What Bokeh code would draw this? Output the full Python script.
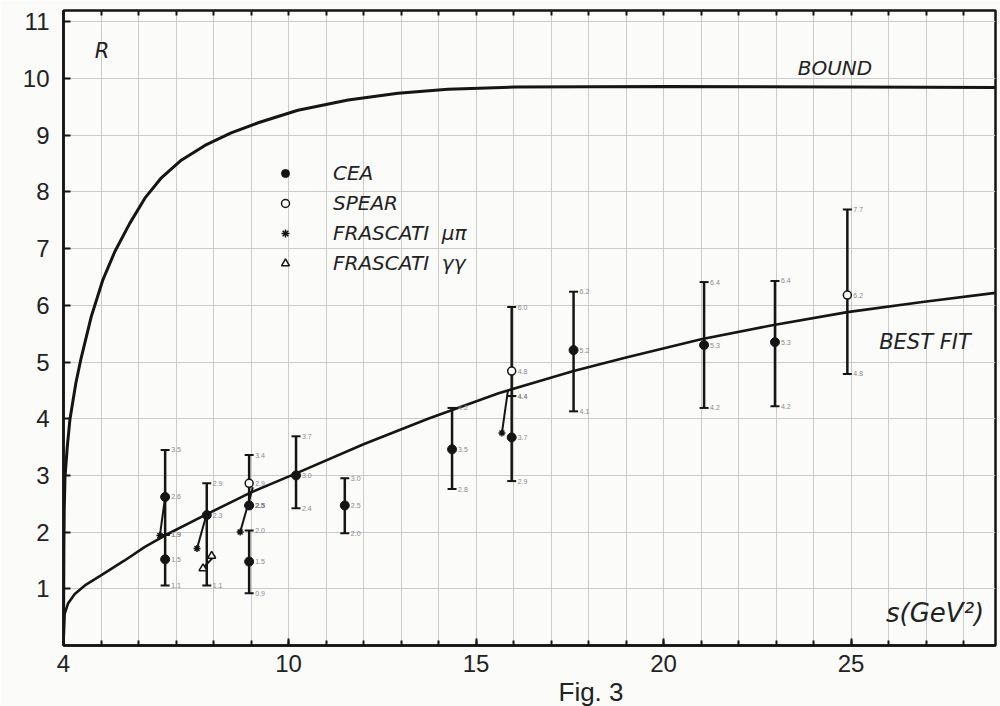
from bokeh.plotting import figure
from bokeh.models import FixedTicker, Label, Legend, LegendItem, LinearAxis, Range1d, Title
from bokeh.core.properties import value
from bokeh.embed import file_html
from bokeh.resources import INLINE

# ---- data ----
bound_s = [4.0, 4.01, 4.02, 4.04, 4.1, 4.17, 4.33, 4.47, 4.74, 5.05, 5.37, 5.77, 6.17, 6.61, 7.14, 7.77,
           8.47, 9.19, 10.25, 11.59, 12.92, 14.25, 16.03, 20.0, 25.0, 28.85]
bound_r = [0.0, 1.7, 2.4, 2.97, 3.5, 3.98, 4.63, 5.07, 5.80, 6.45, 6.95, 7.45, 7.89, 8.25, 8.56, 8.82,
           9.04, 9.22, 9.44, 9.62, 9.74, 9.81, 9.85, 9.86, 9.85, 9.84]

fit_s = [4.0, 4.01, 4.03, 4.12, 4.30, 4.57, 5.01, 5.63, 6.17, 6.70, 7.77, 9.0, 10.25, 12.0, 13.72,
         15.6, 17.6, 19.0, 21.0, 22.9, 24.9, 26.9, 28.85]
fit_r = [0.04, 0.21, 0.56, 0.74, 0.91, 1.06, 1.24, 1.50, 1.74, 1.94, 2.30, 2.70, 3.05, 3.55, 4.00,
         4.45, 4.84, 5.08, 5.40, 5.65, 5.88, 6.06, 6.22]

cea_s = [6.71, 6.71, 7.82, 8.95, 8.95, 10.2, 11.5, 14.36, 15.95, 17.6, 21.08, 22.97]
cea_r = [2.62, 1.52, 2.30, 2.47, 1.48, 3.00, 2.47, 3.46, 3.67, 5.21, 5.30, 5.35]
cea_lo = [1.95, 1.06, 1.06, 2.47, 0.92, 2.42, 1.98, 2.76, 2.90, 4.13, 4.19, 4.22]
cea_hi = [3.45, 1.95, 2.86, 2.47, 2.03, 3.69, 2.95, 4.19, 4.40, 6.24, 6.41, 6.43]

spear_s = [8.95, 15.95, 24.9]
spear_r = [2.86, 4.84, 6.18]
spear_lo = [2.47, 4.40, 4.79]
spear_hi = [3.36, 5.97, 7.69]

fmp_s = [6.57, 7.56, 8.71, 15.69]
fmp_r = [1.94, 1.71, 2.00, 3.75]
fgg_s = [7.95, 7.72]
fgg_r = [1.58, 1.36]

link_s0 = [6.71, 7.80, 9.05, 15.85, 8.04]
link_r0 = [2.62, 2.28, 2.79, 4.50, 1.59]
link_s1 = [6.57, 7.56, 8.71, 15.69, 7.67]
link_r1 = [1.94, 1.71, 2.00, 3.75, 1.33]

x_label_ticks = [4, 10, 15, 20, 25]
y_label_ticks = [1, 2, 3, 4, 5, 6, 7, 8, 9, 10, 11]

# ---- figure ----
INK = "#151515"
BG = "#fbfbfa"
p = figure(width=1000, height=706, x_range=Range1d(4, 28.85), y_range=Range1d(0, 11.2),
           output_backend="svg", toolbar_location=None,
           min_border_left=63, min_border_right=5, min_border_top=10, min_border_bottom=61)
p.background_fill_color = BG
p.border_fill_color = BG
p.outline_line_color = INK
p.outline_line_width = 2.5

p.xgrid.ticker = FixedTicker(ticks=list(range(4, 29)))
p.ygrid.ticker = FixedTicker(ticks=list(range(0, 12)))
p.grid.grid_line_color = "#cbcbcb"
p.grid.grid_line_width = 1

p.xaxis.ticker = FixedTicker(ticks=x_label_ticks, minor_ticks=list(range(4, 29)))
p.yaxis.ticker = FixedTicker(ticks=y_label_ticks, minor_ticks=[])
for ax in (p.xaxis, p.yaxis):
    ax.axis_line_width = 2.5
    ax.axis_line_color = INK
    ax.major_tick_in = 7
    ax.major_tick_out = 0
    ax.minor_tick_in = 5
    ax.minor_tick_out = 0
    ax.major_tick_line_width = 2
    ax.minor_tick_line_width = 2
    ax.major_tick_line_color = INK
    ax.minor_tick_line_color = INK
    ax.major_label_text_font = "Liberation Sans"
    ax.major_label_text_font_size = "24px"
    ax.major_label_text_color = "#222222"
p.yaxis.major_label_standoff = 14
p.xaxis.major_label_standoff = 9

top_ticks = list(range(4, 29))
top = LinearAxis(ticker=FixedTicker(ticks=top_ticks), major_tick_in=5, major_tick_out=0,
                 axis_line_color=None, major_tick_line_width=2, major_tick_line_color=INK,
                 major_label_overrides={t: "" for t in top_ticks}, major_label_standoff=0)
p.add_layout(top, "above")

# "Fig. 3" caption below the axis
p.add_layout(Title(text="Fig.  3", align="left", offset=495, standoff=0,
                   text_font="Liberation Sans", text_font_style="normal",
                   text_font_size="26px", text_color="#222222"), "below")

# curves
p.line(bound_s, bound_r, line_color=INK, line_width=3)
p.line(fit_s, fit_r, line_color=INK, line_width=2.6)

# slanted connectors
p.segment(link_s0, link_r0, link_s1, link_r1, line_color=INK, line_width=2)

# error bars
p.segment(cea_s, cea_lo, cea_s, cea_hi, line_color=INK, line_width=2.5)
p.segment(spear_s, spear_lo, spear_s, spear_hi, line_color=INK, line_width=2.5)
p.scatter(cea_s + cea_s, cea_lo + cea_hi, marker="dash", size=9, line_color=INK, line_width=2)
p.scatter(spear_s + spear_s, spear_lo + spear_hi, marker="dash", size=9, line_color=INK, line_width=2)

r_cea = p.scatter(cea_s, cea_r, marker="circle", size=9, fill_color=INK, line_color=INK)
r_spear = p.scatter(spear_s, spear_r, marker="circle", size=8, fill_color=BG, line_color=INK, line_width=1.5)
r_fmp = p.scatter(fmp_s, fmp_r, marker="asterisk", size=7, line_color=INK, line_width=1.5)
r_fgg = p.scatter(fgg_s, fgg_r, marker="triangle", size=8, fill_color=BG, line_color=INK, line_width=1.5)

# small numeric annotations next to bars
ann_s = cea_s * 3 + spear_s * 3
ann_r = cea_hi + cea_r + cea_lo + spear_hi + spear_r + spear_lo
ann_t = ["%.1f" % v for v in ann_r]
p.text(ann_s, ann_r, text=ann_t, x_offset=6, text_font=value("Liberation Sans"),
       text_font_size="7px", text_color="#8a8a8a", text_baseline="middle")

legend = Legend(items=[LegendItem(label="CEA", renderers=[r_cea]),
                       LegendItem(label="SPEAR", renderers=[r_spear]),
                       LegendItem(label="FRASCATI  μπ", renderers=[r_fmp]),
                       LegendItem(label="FRASCATI  γγ", renderers=[r_fgg])],
                location=(212, 370), border_line_color=None, background_fill_alpha=0,
                label_text_font="DejaVu Sans", label_text_font_style="italic",
                label_text_font_size="20px", label_text_color="#222222",
                glyph_width=20, glyph_height=22, label_height=22, spacing=6,
                padding=0, margin=0, label_standoff=38)
p.add_layout(legend)

def lab(x, y, t, size):
    p.add_layout(Label(x=x, y=y, text=t, text_font="DejaVu Sans", text_font_style="italic",
                       text_font_size=size, text_color="#222222", text_align="center",
                       text_baseline="middle"))

lab(5.03, 10.49, "R", "21px")
lab(24.57, 10.19, "BOUND", "20px")
lab(26.97, 5.35, "BEST FIT", "21px")
lab(27.24, 0.58, "s(GeV²)", "26px")

open("out.html", "w").write(file_html(p, INLINE))
